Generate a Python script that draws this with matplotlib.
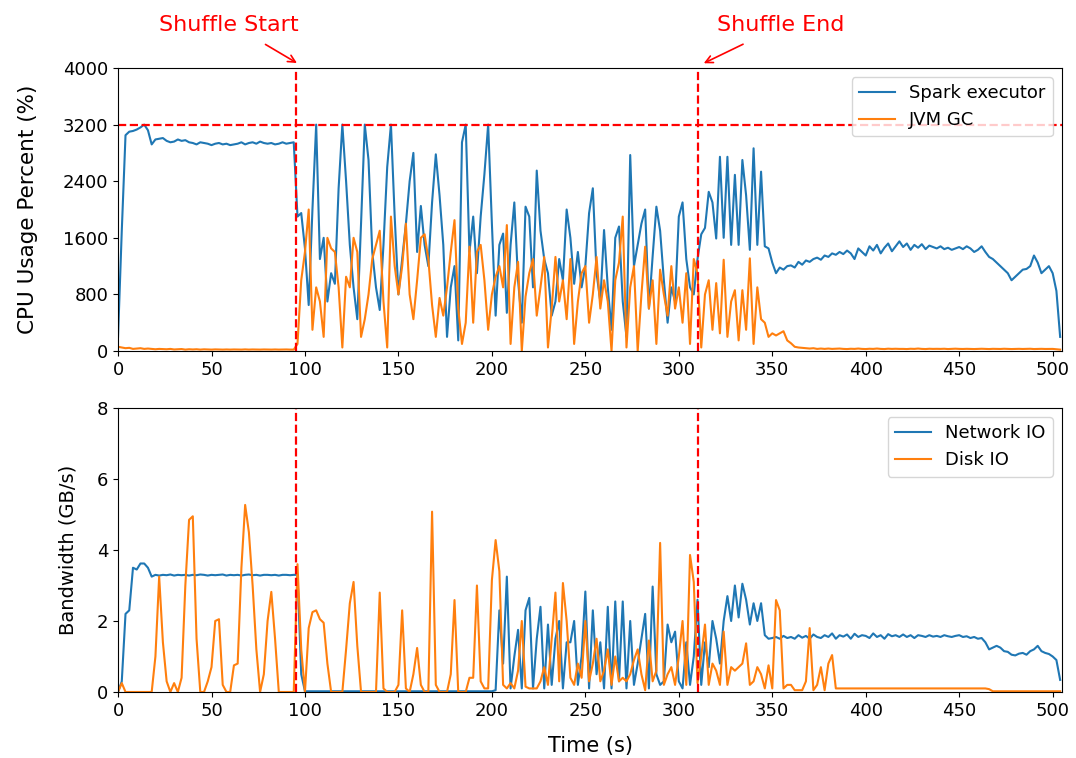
import matplotlib
matplotlib.use("Agg")
import matplotlib.pyplot as plt
import numpy as np

# sampled every 2 s, t = 0 .. 504
cpu_spark = [
    200, 1700, 3050, 3100, 3110, 3130, 3160, 3200, 3120, 2920,
    2990, 3000, 3010, 2970, 2950, 2960, 2990, 2970, 2980, 2950,
    2940, 2920, 2950, 2940, 2930, 2910, 2930, 2940, 2920, 2930,
    2910, 2920, 2930, 2950, 2920, 2940, 2950, 2930, 2960, 2940,
    2930, 2940, 2920, 2930, 2950, 2930, 2940, 2950, 1900, 1950,
    1450, 650, 2000, 3200, 1300, 1600, 700, 1100, 950, 2300,
    3200, 2400, 1500, 900, 450, 1800, 3200, 2700, 1400, 900,
    580, 1500, 2600, 3200, 1900, 800, 1300, 1800, 2400, 2800,
    1400, 2050, 1500, 1200, 2100, 2780, 2200, 1500, 200, 900,
    1200, 150, 2950, 3200, 1400, 1900, 1100, 1900, 2500, 3200,
    1800, 500, 1500, 1660, 540, 1500, 2100, 1000, 400, 2040,
    1900, 900, 2550, 1700, 1300, 1100, 500, 700, 1300, 1000,
    2000, 1600, 950, 1400, 900, 1200, 1950, 2300, 1100, 700,
    1710, 900, 300, 1600, 1760, 700, 200, 2770, 1200, 1500,
    1800, 2000, 600, 1340, 2040, 1700, 1000, 400, 900, 700,
    1900, 2100, 1300, 900, 800, 1300, 1650, 1740, 2250, 2100,
    1590, 2745, 1600, 2745, 1500, 2490, 1500, 2700, 2200, 1430,
    2865, 1500, 2535, 1480, 1450, 1250, 1100, 1180, 1150, 1200,
    1210, 1180, 1260, 1220, 1280, 1260, 1300, 1320, 1290, 1350,
    1330, 1380, 1360, 1400, 1370, 1420, 1380, 1300, 1450, 1400,
    1350, 1480, 1420, 1500, 1380, 1460, 1520, 1410, 1480, 1550,
    1470, 1520, 1430, 1500, 1460, 1510, 1440, 1490, 1470, 1450,
    1480, 1440, 1460, 1430, 1450, 1470, 1440, 1480, 1450, 1400,
    1430, 1480, 1400, 1330, 1300, 1250, 1200, 1150, 1100, 1000,
    1050, 1100, 1150, 1160, 1200, 1350, 1250, 1100, 1150, 1200,
    1100, 850, 200,
]

cpu_gc = [
    60, 50, 40, 45, 30, 35, 40, 30, 35, 30,
    25, 30, 28, 25, 30, 22, 25, 28, 20, 25,
    22, 25, 20, 24, 22, 20, 23, 21, 20, 22,
    20, 22, 21, 20, 23, 20, 22, 21, 20, 22,
    21, 20, 22, 20, 21, 22, 20, 20, 100, 1000,
    1400, 2000, 300, 900, 700, 200, 1600, 1450, 1400, 900,
    50, 1050, 900, 1600, 1400, 200, 450, 800, 1300, 1500,
    1700, 700, 50, 1900, 1200, 800, 1200, 1800, 800, 450,
    1000, 1600, 1650, 1300, 650, 200, 750, 500, 900, 1400,
    1850, 600, 100, 400, 1475, 400, 1400, 1500, 1000, 300,
    800, 1050, 1200, 900, 1780, 100, 900, 1260, 0, 770,
    1100, 1300, 500, 900, 1330, 50, 600, 1330, 700, 1000,
    450, 1300, 100, 700, 1100, 1200, 400, 800, 1330, 600,
    1000, 700, 0, 1000, 1250, 1900, 50, 900, 1200, 0,
    800, 1475, 600, 1000, 100, 1150, 800, 500, 1200, 600,
    900, 400, 1100, 100, 1300, 1100, 50, 800, 1000, 300,
    960, 250, 1290, 200, 700, 860, 150, 860, 300, 1310,
    100, 900, 450, 400, 200, 250, 220, 250, 280, 150,
    110, 60, 50, 45, 40, 35, 40, 30, 35, 30,
    35, 30, 32, 35, 30, 28, 32, 30, 35, 30,
    28, 32, 30, 35, 30, 28, 33, 30, 32, 30,
    30, 28, 32, 30, 35, 30, 28, 32, 30, 31,
    30, 32, 28, 30, 33, 30, 29, 31, 30, 28,
    30, 32, 30, 28, 31, 30, 29, 32, 30, 28,
    30, 31, 29, 30, 32, 28, 30, 31, 29, 30,
    30, 25, 20,
]

net_io = [
    0.0, 0.3, 2.2, 2.3, 3.5, 3.45, 3.62, 3.62, 3.5, 3.25,
    3.3, 3.28, 3.3, 3.29, 3.31, 3.28, 3.3, 3.29, 3.3, 3.28,
    3.3, 3.29, 3.31, 3.3, 3.28, 3.3, 3.29, 3.3, 3.31, 3.28,
    3.3, 3.29, 3.3, 3.28, 3.3, 3.31, 3.29, 3.3, 3.28, 3.3,
    3.3, 3.29, 3.3, 3.28, 3.3, 3.3, 3.29, 3.3, 3.3, 0.5,
    0.02, 0.02, 0.02, 0.02, 0.02, 0.02, 0.02, 0.02, 0.02, 0.02,
    0.02, 0.02, 0.02, 0.02, 0.02, 0.02, 0.02, 0.02, 0.02, 0.02,
    0.02, 0.02, 0.02, 0.02, 0.02, 0.02, 0.02, 0.02, 0.02, 0.02,
    0.02, 0.02, 0.02, 0.02, 0.02, 0.02, 0.02, 0.02, 0.02, 0.02,
    0.02, 0.02, 0.02, 0.02, 0.02, 0.02, 0.02, 0.02, 0.02, 0.02,
    0.02, 0.05, 2.3, 0.8, 3.25, 0.1, 1.0, 1.75, 0.1, 2.3,
    2.65, 0.1, 1.5, 2.4, 0.1, 1.9, 0.2, 1.5, 2.0, 0.1,
    1.4, 1.4, 2.0, 0.2, 1.0, 2.83, 0.1, 2.3, 0.5, 1.4,
    0.1, 2.4, 0.1, 2.55, 0.3, 2.55, 0.1, 2.0, 0.2, 0.8,
    1.5, 2.2, 0.1, 2.97, 0.5, 0.2, 0.3, 1.9, 1.4, 1.7,
    0.3, 0.1, 1.4, 0.2, 1.0, 2.6, 0.2, 1.4, 0.7, 2.0,
    1.5, 0.8, 2.0, 2.7, 2.0, 3.0, 2.1, 3.05, 2.6, 1.9,
    2.5, 2.0, 2.5, 1.6, 1.5, 1.52, 1.55, 1.5, 1.58, 1.52,
    1.55, 1.5, 1.6, 1.53, 1.58, 1.5, 1.62, 1.55, 1.52, 1.6,
    1.55, 1.65, 1.5, 1.6, 1.56, 1.62, 1.5, 1.64, 1.55, 1.6,
    1.58, 1.52, 1.65, 1.55, 1.6, 1.5, 1.63, 1.57, 1.6, 1.55,
    1.62, 1.55, 1.6, 1.52, 1.6, 1.58, 1.55, 1.6, 1.56, 1.58,
    1.55, 1.6, 1.57, 1.55, 1.58, 1.6, 1.55, 1.57, 1.52, 1.55,
    1.5, 1.52, 1.4, 1.2, 1.25, 1.3, 1.25, 1.15, 1.13, 1.05,
    1.03, 1.08, 1.1, 1.05, 1.15, 1.2, 1.3, 1.15, 1.1, 1.07,
    1.0, 0.9, 0.34,
]

disk_io = [
    0.0, 0.25, 0.0, 0.0, 0.0, 0.0, 0.0, 0.0, 0.0, 0.0,
    1.0, 3.25, 1.4, 0.3, 0.0, 0.25, 0.0, 0.4, 3.0, 4.85,
    4.95, 1.5, 0.0, 0.0, 0.3, 0.7, 2.0, 2.05, 0.2, 0.0,
    0.0, 0.75, 0.8, 3.5, 5.27, 4.5, 3.0, 1.2, 0.0, 0.5,
    2.0, 2.82, 1.5, 0.0, 0.0, 0.0, 0.0, 0.0, 3.6, 1.2,
    0.0, 1.8, 2.25, 2.3, 2.05, 1.95, 0.8, 0.0, 0.0, 0.0,
    0.0, 1.2, 2.5, 3.1, 1.3, 0.0, 0.0, 0.0, 0.0, 0.0,
    2.8, 0.1, 0.0, 0.0, 0.0, 0.2, 2.3, 0.1, 0.0, 0.5,
    1.24, 0.2, 0.0, 0.0, 5.08, 0.2, 0.0, 0.0, 0.0, 0.5,
    2.59, 0.0, 0.0, 0.0, 0.4, 0.4, 3.0, 0.3, 0.1, 0.1,
    3.15, 4.28, 3.4, 0.2, 0.1, 0.25, 0.1, 0.6, 2.0, 0.15,
    0.1, 0.1, 0.1, 0.3, 0.7, 0.2, 1.5, 2.8, 0.3, 3.07,
    2.0, 0.4, 0.2, 0.8, 0.4, 2.0, 0.3, 0.8, 1.5, 0.3,
    0.6, 1.2, 0.2, 1.0, 0.3, 0.4, 0.3, 0.5, 0.9, 1.2,
    0.5, 0.05, 1.45, 0.3, 0.6, 4.2, 0.2, 0.5, 0.7, 0.2,
    1.0, 2.0, 0.2, 3.86, 3.1, 0.25, 1.0, 1.9, 0.2, 0.8,
    0.6, 0.2, 1.7, 0.2, 0.7, 0.6, 0.7, 0.8, 1.37, 0.2,
    0.3, 0.7, 0.5, 0.1, 0.75, 0.1, 2.59, 2.3, 0.1, 0.2,
    0.2, 0.05, 0.05, 0.05, 0.3, 1.8, 0.05, 0.2, 0.7, 0.05,
    0.8, 1.04, 0.1, 0.1, 0.1, 0.1, 0.1, 0.1, 0.1, 0.1,
    0.1, 0.1, 0.1, 0.1, 0.1, 0.1, 0.1, 0.1, 0.1, 0.1,
    0.1, 0.1, 0.1, 0.1, 0.1, 0.1, 0.1, 0.1, 0.1, 0.1,
    0.1, 0.1, 0.1, 0.1, 0.1, 0.1, 0.1, 0.1, 0.1, 0.1,
    0.1, 0.1, 0.1, 0.08, 0.02, 0.02, 0.02, 0.02, 0.02, 0.02,
    0.02, 0.02, 0.02, 0.02, 0.02, 0.02, 0.02, 0.02, 0.02, 0.02,
    0.02, 0.02, 0.02,
]

time = np.arange(0, 505, 2)
shuffle_start = 95.3
shuffle_end = 310
cpu_limit = 3200

plt.rcParams['font.size'] = 13

fig = plt.figure(figsize=(10.76, 7.58), dpi=100)
ax1 = fig.add_axes([0.1097, 0.5369, 0.8773, 0.3734])
ax2 = fig.add_axes([0.1097, 0.0871, 0.8773, 0.3746])

ax1.plot(time, cpu_spark, lw=1.5, label="Spark executor")
ax1.plot(time, cpu_gc, lw=1.5, label="JVM GC")
ax1.axhline(cpu_limit, color="red", ls="--", lw=1.6)
ax1.axvline(shuffle_start, color="red", ls="--", lw=1.6)
ax1.axvline(shuffle_end, color="red", ls="--", lw=1.6)
ax1.set_xlim(0, 505)
ax1.set_ylim(0, 4000)
ax1.set_yticks([0, 800, 1600, 2400, 3200, 4000])
ax1.set_xticks(range(0, 501, 50))
ax1.set_ylabel("CPU Usage Percent (%)", fontsize=15.5, labelpad=18)
ax1.legend(loc="upper right")

ax1.text(59.4, 4608, "Shuffle Start", color="red", fontsize=16,
         ha="center", va="center", clip_on=False)
ax1.text(354.4, 4608, "Shuffle End", color="red", fontsize=16,
         ha="center", va="center", clip_on=False)
ax1.annotate("", xy=(97, 4050), xytext=(77.6, 4353),
             arrowprops=dict(arrowstyle="->", color="red", lw=1.2),
             annotation_clip=False)
ax1.annotate("", xy=(312, 4050), xytext=(335.7, 4353),
             arrowprops=dict(arrowstyle="->", color="red", lw=1.2),
             annotation_clip=False)

ax2.plot(time, net_io, lw=1.5, label="Network IO")
ax2.plot(time, disk_io, lw=1.5, label="Disk IO")
ax2.axvline(shuffle_start, color="red", ls="--", lw=1.6)
ax2.axvline(shuffle_end, color="red", ls="--", lw=1.6)
ax2.set_xlim(0, 505)
ax2.set_ylim(0, 8)
ax2.set_yticks([0, 2, 4, 6, 8])
ax2.set_xticks(range(0, 501, 50))
ax2.set_ylabel("Bandwidth (GB/s)", fontsize=14, labelpad=14)
ax2.set_xlabel("Time (s)", fontsize=15, labelpad=12)
ax2.legend(loc="upper right")

fig.savefig("out.png", dpi=100)
